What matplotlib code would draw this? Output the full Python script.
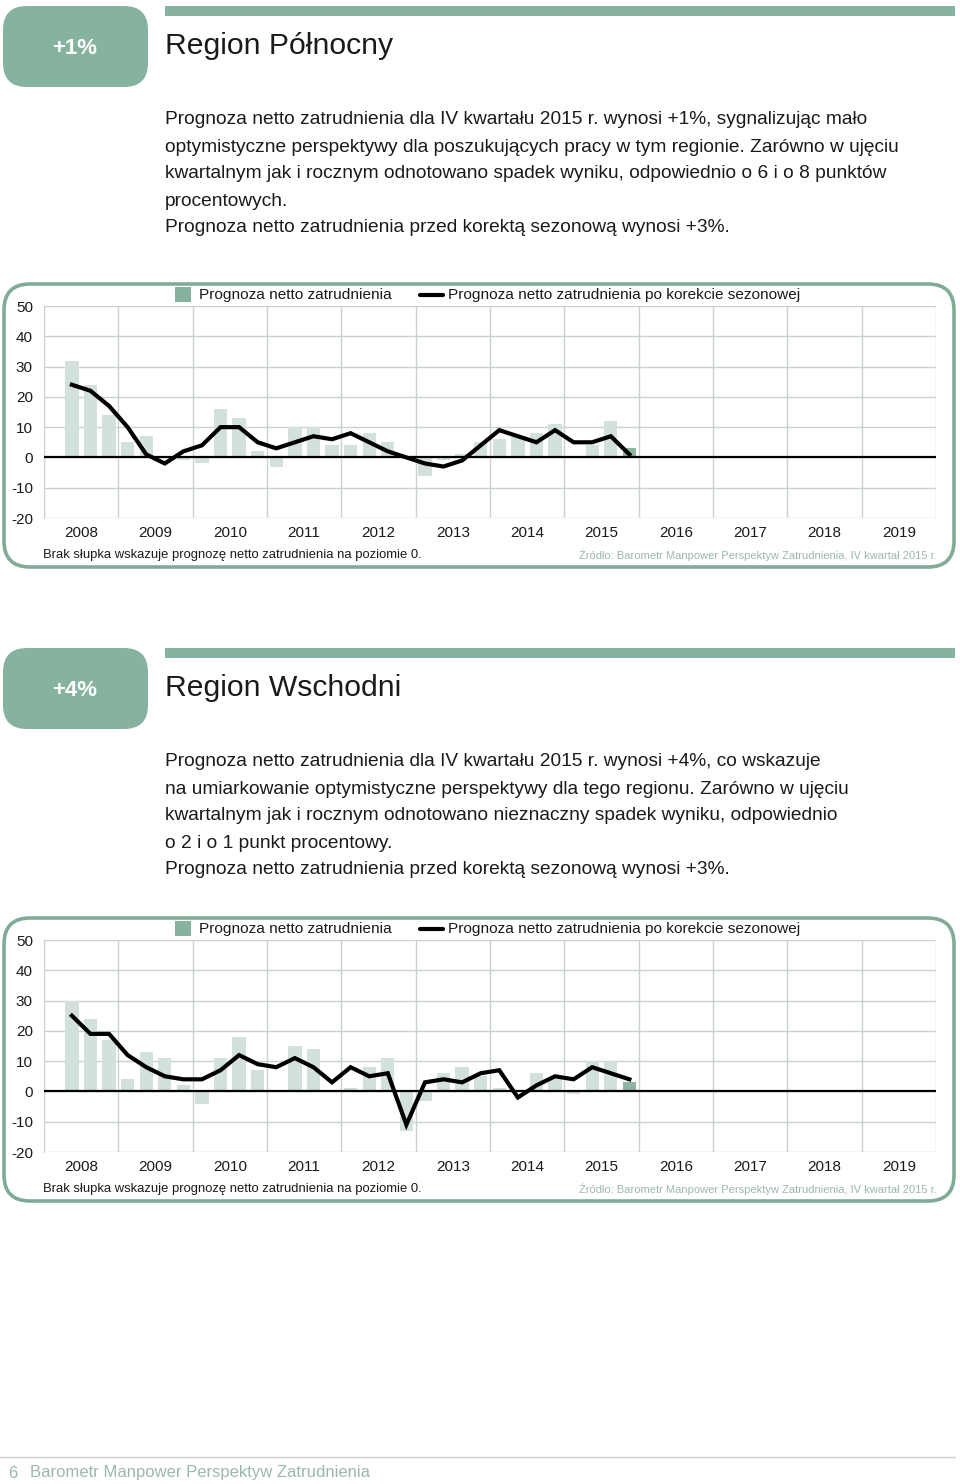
import numpy as np
import matplotlib
matplotlib.use("Agg")
import matplotlib.pyplot as plt
from matplotlib.patches import FancyBboxPatch, Rectangle

plt.rcParams['font.family'] = ['Liberation Sans', 'DejaVu Sans']

W, H = 960, 1484

GREEN = "#86b39f"
FRAME = "#80ab97"
BAR = "#d2e1d9"
BAR_LAST = "#8cb6a2"
GRID = "#c9d2ce"
TEXT = "#1a1a1a"
SOFT = "#9bb8ab"

years = [str(y) for y in range(2008, 2020)]
yticks = [50, 40, 30, 20, 10, 0, -10, -20]

# quarters Q2 2008 .. Q4 2015
polnocny_bars = [32, 24, 14,
                 5, 7, 0, -1,
                 -2, 16, 13, 2,
                 -3, 10, 10, 4,
                 4, 8, 5, 0,
                 -6, -1, 1, 5,
                 6, 7, 8, 11,
                 0, 4, 12, 3]
polnocny_line = [24, 22, 17,
                 10, 1, -2, 2,
                 4, 10, 10, 5,
                 3, 5, 7, 6,
                 8, 5, 2, 0,
                 -2, -3, -1, 4,
                 9, 7, 5, 9,
                 5, 5, 7, 1]

wschodni_bars = [30, 24, 17,
                 4, 13, 11, 2,
                 -4, 11, 18, 7,
                 0, 15, 14, 0,
                 1, 8, 11, -13,
                 -3, 6, 8, 5,
                 1, 0, 6, 4,
                 -1, 10, 10, 3]
wschodni_line = [25, 19, 19,
                 12, 8, 5, 4,
                 4, 7, 12, 9,
                 8, 11, 8, 3,
                 8, 5, 6, -11,
                 3, 4, 3, 6,
                 7, -2, 2, 5,
                 4, 8, 6, 4]

polnocny_text = [
    "Prognoza netto zatrudnienia dla IV kwartału 2015 r. wynosi +1%, sygnalizując mało",
    "optymistyczne perspektywy dla poszukujących pracy w tym regionie. Zarówno w ujęciu",
    "kwartalnym jak i rocznym odnotowano spadek wyniku, odpowiednio o 6 i o 8 punktów",
    "procentowych.",
    "Prognoza netto zatrudnienia przed korektą sezonową wynosi +3%.",
]
wschodni_text = [
    "Prognoza netto zatrudnienia dla IV kwartału 2015 r. wynosi +4%, co wskazuje",
    "na umiarkowanie optymistyczne perspektywy dla tego regionu. Zarówno w ujęciu",
    "kwartalnym jak i rocznym odnotowano nieznaczny spadek wyniku, odpowiednio",
    "o 2 i o 1 punkt procentowy.",
    "Prognoza netto zatrudnienia przed korektą sezonową wynosi +3%.",
]

fig = plt.figure(figsize=(W / 100, H / 100), dpi=100)
bg = fig.add_axes([0, 0, 1, 1])
bg.set_xlim(0, W)
bg.set_ylim(H, 0)
bg.axis("off")


def section(top, ctop, badge, title, lines, bars, line):
    # header
    bg.add_patch(FancyBboxPatch((3, top + 6), 145, 81, boxstyle="round,pad=0,rounding_size=24",
                                fc=GREEN, ec="none"))
    bg.text(75, top + 48, badge, color="white", fontsize=16, fontweight="bold",
            ha="center", va="center")
    bg.add_patch(Rectangle((165, top + 6), 790, 10, fc=GREEN, ec="none"))
    bg.text(165, top + 46, title, color=TEXT, fontsize=21.7, ha="left", va="center")
    for i, s in enumerate(lines):
        bg.text(165, top + 120 + 27 * i, s, color=TEXT, fontsize=13.8, ha="left", va="center")

    # chart frame
    bg.add_patch(FancyBboxPatch((4, ctop + 284), 950, 283, boxstyle="round,pad=0,rounding_size=26",
                                fc="none", ec=FRAME, lw=2.6))
    # legend
    bg.add_patch(Rectangle((175, ctop + 287), 16, 15, fc=GREEN, ec="none"))
    bg.text(199, ctop + 295, "Prognoza netto zatrudnienia", fontsize=11.05, color=TEXT, va="center")
    bg.plot([420, 443], [ctop + 295, ctop + 295], color="black", lw=3, solid_capstyle="round")
    bg.text(448, ctop + 295, "Prognoza netto zatrudnienia po korekcie sezonowej", fontsize=11.05,
            color=TEXT, va="center")
    bg.text(43, ctop + 555, "Brak słupka wskazuje prognozę netto zatrudnienia na poziomie 0.",
            fontsize=9.35, color=TEXT, va="center")
    bg.text(937, ctop + 555, "Źródło: Barometr Manpower Perspektyw Zatrudnienia, IV kwartał 2015 r.",
            fontsize=8, color=SOFT, va="center", ha="right")

    # data axes
    y0, y1 = ctop + 306, ctop + 518
    ax = fig.add_axes([44 / W, 1 - y1 / H, 892 / W, (y1 - y0) / H])
    ax.patch.set_alpha(0)
    x = np.arange(1, 1 + len(bars)) + 0.5
    colors = [BAR] * (len(bars) - 1) + [BAR_LAST]
    ax.bar(x, bars, width=0.72, color=colors, zorder=2)
    ax.plot(x, line, color="black", lw=3, zorder=4, solid_joinstyle="miter")
    ax.axhline(0, color="black", lw=1.6, zorder=3)
    ax.set_xlim(0, 48)
    ax.set_ylim(-20, 50)
    ax.set_yticks(yticks)
    ax.set_yticklabels([str(v) for v in yticks], fontsize=11, color=TEXT)
    ax.set_xticks(np.arange(0, 49, 4))
    ax.set_xticklabels([])
    ax.set_xticks(np.arange(2, 48, 4), minor=True)
    ax.set_xticklabels(years, minor=True, fontsize=11, color=TEXT)
    ax.tick_params(axis="both", which="both", length=0)
    ax.tick_params(axis="y", pad=8)
    ax.tick_params(axis="x", which="minor", pad=5.5)
    ax.grid(True, which="major", color=GRID, lw=1, zorder=0)
    for s in ["top", "right", "bottom"]:
        ax.spines[s].set_visible(False)
    ax.spines["left"].set_color(GRID)


section(0, 0, "+1%", "Region Północny", polnocny_text, polnocny_bars, polnocny_line)
section(642, 634, "+4%", "Region Wschodni", wschodni_text, wschodni_bars, wschodni_line)

# footer
bg.plot([0, 955], [1457, 1457], color="#c5d3cc", lw=1)
bg.text(8, 1473, "6", fontsize=12, color=SOFT, va="center")
bg.text(30, 1473, "Barometr Manpower Perspektyw Zatrudnienia", fontsize=12, color=SOFT, va="center")

fig.savefig("out.png", dpi=100)
